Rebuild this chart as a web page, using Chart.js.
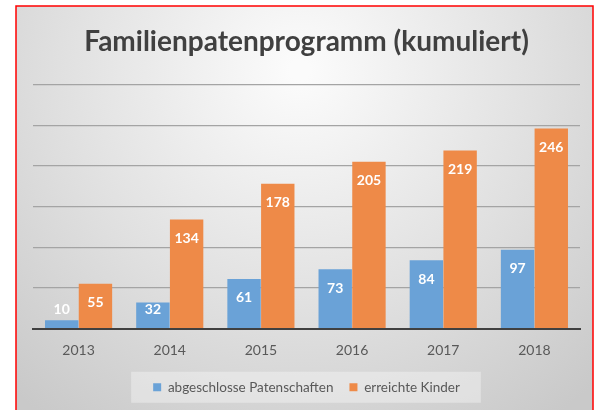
<!DOCTYPE html>
<html>
<head>
<meta charset="utf-8">
<script src="https://cdn.jsdelivr.net/npm/chart.js@4"></script>
<style>
  body { margin: 0; background: #fff; }
  canvas { display: block; }
</style>
</head>
<body>
<canvas id="myChart" width="597" height="410"></canvas>
<script>
// values
const years = ["2013", "2014", "2015", "2016", "2017", "2018"];
const patenschaften = [10, 32, 61, 73, 84, 97];
const kinder = [55, 134, 178, 205, 219, 246];
const seriesNames = ["abgeschlosse Patenschaften", "erreichte Kinder"];

const FONT = "Lato, 'Open Sans', sans-serif";

// gray radial backdrop, red frame and the pale box behind the legend
const backdrop = {
  id: "backdrop",
  beforeDraw(chart) {
    const ctx = chart.ctx;
    ctx.save();
    ctx.fillStyle = "#fff";
    ctx.fillRect(0, 0, chart.width, chart.height);
    const g = ctx.createRadialGradient(300, 70, 10, 300, 70, 430);
    g.addColorStop(0, "#fbfbfb");
    g.addColorStop(0.55, "#e0e0e0");
    g.addColorStop(1, "#c9c9c9");
    ctx.fillStyle = g;
    ctx.fillRect(16, 6, 577, 410);

    const boxes = chart.legend && chart.legend.legendHitBoxes;
    if (boxes && boxes.length) {
      let l = Infinity, r = -Infinity, t = Infinity, b = -Infinity;
      boxes.forEach(h => {
        l = Math.min(l, h.left); r = Math.max(r, h.left + h.width);
        t = Math.min(t, h.top); b = Math.max(b, h.top + h.height);
      });
      const cy = (t + b) / 2;
      ctx.fillStyle = "rgba(255,255,255,0.35)";
      ctx.fillRect(l - 22, cy - 15.5, r - l + 43, 31);
    }

    ctx.strokeStyle = "#ff0000";
    ctx.lineWidth = 1.5;
    ctx.strokeRect(16, 6, 577, 420);
    ctx.restore();
  }
};

// white bold numbers inside the top of each bar
const barLabels = {
  id: "barLabels",
  afterDatasetsDraw(chart) {
    const ctx = chart.ctx;
    ctx.save();
    ctx.font = "bold 14px " + FONT;
    ctx.fillStyle = "#fff";
    ctx.textAlign = "center";
    ctx.textBaseline = "middle";
    chart.data.datasets.forEach((ds, i) => {
      chart.getDatasetMeta(i).data.forEach((bar, j) => {
        const y = Math.min(bar.y + 19, bar.base - 18);
        ctx.fillText(ds.data[j], bar.x, y);
      });
    });
    ctx.restore();
  }
};

new Chart(document.getElementById("myChart"), {
  type: "bar",
  data: {
    labels: years,
    datasets: [
      { label: seriesNames[0], data: patenschaften, backgroundColor: "#6aa2d7" },
      { label: seriesNames[1], data: kinder, backgroundColor: "#ee8a48" }
    ]
  },
  options: {
    responsive: false,
    animation: false,
    datasets: { bar: { categoryPercentage: 0.74, barPercentage: 0.99 } },
    layout: { padding: { left: 33, right: 17, top: 25, bottom: 6 } },
    plugins: {
      title: {
        display: true,
        text: "Familienpatenprogramm (kumuliert)",
        color: "#404040",
        font: { family: FONT, size: 28, weight: "bold" },
        padding: { top: 0, bottom: 26 }
      },
      legend: {
        position: "bottom",
        labels: {
          color: "#595959",
          font: { family: FONT, size: 13.5 },
          boxWidth: 8,
          boxHeight: 8,
          padding: 16
        }
      },
      tooltip: { enabled: false }
    },
    scales: {
      x: {
        grid: { display: false },
        border: { color: "#404040", width: 2 },
        ticks: { color: "#595959", font: { family: FONT, size: 14 }, padding: 5.6 }
      },
      y: {
        min: 0,
        max: 300,
        ticks: { display: false, stepSize: 50 },
        border: { display: false },
        grid: { color: "#a4a4a4", lineWidth: 1.2, drawTicks: false }
      }
    }
  },
  plugins: [backdrop, barLabels]
});
</script>
</body>
</html>
